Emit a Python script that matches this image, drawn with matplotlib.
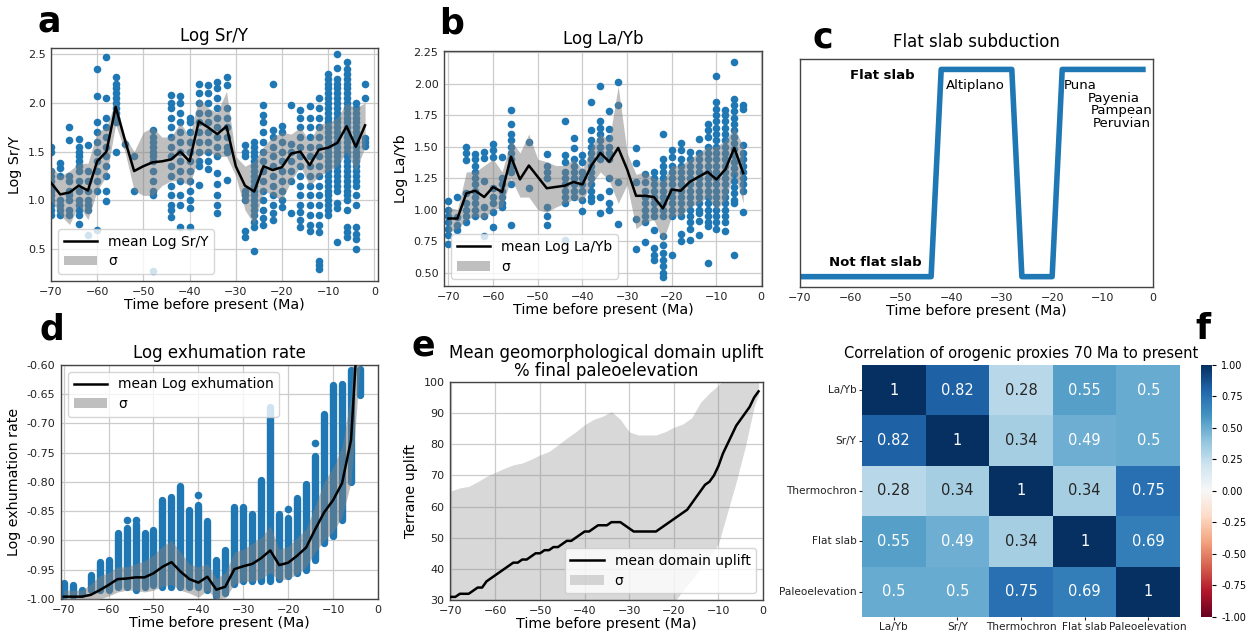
import numpy as np
import matplotlib
matplotlib.use("Agg")
import matplotlib.pyplot as plt
from matplotlib.patches import Patch
from matplotlib.lines import Line2D
import seaborn as sns

# ---------------- data ----------------
# (a) Log Sr/Y : sample values per 2 Ma bin
sry_points = {
    -70: [1.55, 1.5, 1.3, 1.25, 1.2, 1.15, 1.1, 1.05, 1.0, 0.95, 0.9, 0.85],
    -68: [1.38, 1.33, 1.25, 1.0, 0.95, 0.9, 0.85],
    -66: [1.75, 1.62, 1.25, 1.2, 1.1, 1.05, 1.0, 0.9, 0.85],
    -64: [1.63, 1.55, 1.5, 1.45, 1.4, 1.35, 1.3, 1.2, 1.1, 1.0, 0.95, 0.9, 0.85, 0.76],
    -62: [1.57, 1.3, 1.2, 1.1, 1.0, 0.95, 0.9, 0.64],
    -60: [2.35, 2.07, 1.8, 1.7, 1.6, 1.5, 1.4, 1.3, 1.2, 1.1, 0.69],
    -58: [2.47, 2.05, 1.85, 1.75, 1.65, 1.55, 1.45, 1.35, 1.25, 1.1, 0.99],
    -56: [2.27, 2.2, 2.15, 2.1, 2.05, 2.0, 1.95, 1.9, 1.85, 1.8, 1.5],
    -54: [1.58],
    -52: [1.45, 1.1],
    -48: [1.72, 1.65, 1.6, 1.55, 1.5, 1.45, 1.4, 1.3, 1.2, 1.1, 1.05, 0.27],
    -44: [2.08, 2.0, 1.95, 1.85, 1.75, 1.65, 1.55, 1.45, 1.35, 1.25, 1.15, 1.05, 0.95, 0.9, 0.83],
    -42: [2.07, 2.0, 1.9, 1.8, 1.7, 1.6, 1.5, 1.4, 1.3, 1.2, 1.05, 0.95, 0.72],
    -40: [1.85, 1.8, 1.7, 1.6, 1.5, 1.4, 1.3, 1.2, 1.1, 1.0, 0.92, 0.73],
    -38: [2.2, 2.1, 2.0, 1.9, 1.8, 1.7, 1.6, 1.5, 1.4, 1.35, 1.16],
    -36: [2.18, 2.1, 2.0, 1.9, 1.8, 1.7, 1.6, 1.5, 1.4, 1.32],
    -34: [2.22, 2.15, 2.05, 1.95, 1.85, 1.75, 1.65, 1.55, 1.45, 1.28, 1.17, 1.05, 0.95, 0.87],
    -32: [2.27, 2.18, 1.95, 1.85, 1.75, 1.65, 1.55, 1.5, 1.21],
    -28: [1.57, 1.5, 1.45, 1.1, 1.05, 1.0, 0.68, 0.62],
    -26: [1.6, 1.55, 1.5, 1.45, 1.4, 1.35, 1.3, 1.25, 1.2, 1.15, 1.1, 1.05, 1.0, 0.95, 0.9,
          0.85, 0.78, 0.73, 0.48],
    -24: [1.98, 1.88, 1.8, 1.7, 1.6, 1.5, 1.4, 1.3, 1.2, 1.1, 1.0, 0.9, 0.82, 0.75],
    -22: [2.19, 1.72, 1.65, 1.55, 1.45, 1.35, 1.25, 1.15, 1.05, 0.95, 0.87, 0.8],
    -20: [1.76, 1.7, 1.6, 1.5, 1.4, 1.3, 1.2, 1.1, 1.0, 0.93],
    -18: [1.98, 1.58, 1.5, 1.4, 1.3, 1.2, 0.87],
    -16: [1.93, 1.85, 1.75, 1.65, 1.55, 1.45, 1.35, 1.25, 1.15, 1.05, 0.95, 0.88, 0.8, 0.72],
    -14: [1.97, 1.85, 1.75, 1.65, 1.55, 1.45, 1.35, 1.25, 1.15, 1.05, 0.95, 0.85, 0.75, 0.68],
    -12: [2.05, 1.95, 1.85, 1.75, 1.65, 1.55, 1.45, 1.35, 1.25, 1.15, 1.05, 0.95, 0.85, 0.75,
          0.67, 0.38, 0.33, 0.29],
    -10: [2.3, 2.25, 2.2, 2.15, 2.1, 2.05, 2.0, 1.95, 1.9, 1.85, 1.8, 1.75, 1.7, 1.65, 1.6,
          1.55, 1.5, 1.45, 1.4, 1.35, 1.3, 1.25, 1.2, 1.15, 1.1, 1.05, 1.0, 0.95, 0.9, 0.85],
    -8: [2.5, 2.36, 2.25, 2.2, 2.15, 2.1, 2.05, 2.0, 1.95, 1.9, 1.85, 1.8, 1.75, 1.7, 1.65,
         1.6, 1.55, 1.5, 1.45, 1.4, 1.35, 1.3, 1.25, 1.2, 1.15, 1.1, 0.97, 0.92, 0.57],
    -6: [2.42, 2.35, 2.3, 2.25, 2.2, 2.15, 2.1, 2.05, 2.0, 1.95, 1.9, 1.85, 1.8, 1.75, 1.7,
         1.65, 1.6, 1.55, 1.5, 1.45, 1.4, 1.35, 1.3, 1.25, 1.2, 1.15, 1.1, 1.05, 1.0, 0.9,
         0.72, 0.67, 0.62],
    -4: [2.0, 1.95, 1.9, 1.85, 1.8, 1.75, 1.7, 1.65, 1.6, 1.55, 1.5, 1.45, 1.4, 1.35, 1.3,
         1.25, 1.2, 1.15, 1.05, 0.95, 0.72, 0.65, 0.6, 0.5],
    -2: [2.2, 2.05, 1.64, 1.6, 1.56],
}
sry_time = [-70, -68, -66, -64, -62, -60, -58, -56, -54, -52, -50, -48, -46, -44, -42, -40, -38,
            -36, -34, -32, -30, -28, -26, -24, -22, -20, -18, -16, -14, -12, -10, -8, -6, -4, -2]
sry_mean = [1.18, 1.06, 1.08, 1.15, 1.1, 1.4, 1.5, 1.96, 1.62, 1.3, 1.35, 1.39, 1.4, 1.42, 1.5,
            1.4, 1.81, 1.75, 1.68, 1.76, 1.35, 1.15, 1.09, 1.35, 1.31, 1.34, 1.48, 1.5, 1.36,
            1.52, 1.54, 1.59, 1.76, 1.55, 1.77]
sry_upper = [1.35, 1.25, 1.3, 1.38, 1.38, 1.7, 1.75, 2.02, 1.65, 1.5, 1.7, 1.75, 1.65, 1.65, 1.8,
             1.65, 2.05, 1.95, 1.9, 2.12, 1.45, 1.35, 1.4, 1.55, 1.65, 1.7, 1.68, 1.75, 1.6,
             1.78, 1.8, 1.85, 2.0, 1.95, 2.0]
sry_lower = [1.0, 0.85, 0.75, 0.95, 0.8, 1.1, 1.25, 1.78, 1.5, 1.1, 1.05, 1.05, 1.15, 1.2, 1.2,
             1.15, 1.45, 1.5, 1.45, 1.45, 1.25, 0.9, 0.75, 1.1, 1.05, 1.0, 1.2, 1.35, 1.15,
             1.25, 1.3, 1.35, 1.5, 1.3, 1.55]

# (b) Log La/Yb
layb_points = {
    -70: [1.07, 1.0, 0.95, 0.9, 0.85, 0.8, 0.73],
    -68: [1.1, 0.94, 0.88, 0.84],
    -66: [1.5, 1.45, 1.39, 1.13, 1.05, 1.0, 0.95, 0.9],
    -64: [1.44, 1.4, 1.35, 1.3, 1.25, 1.2, 1.15, 1.1, 1.05, 1.0, 0.95],
    -62: [1.46, 1.41, 1.23, 1.02, 0.95, 0.79],
    -60: [1.52, 1.47, 1.42, 1.17, 1.1, 1.05, 0.98, 0.86],
    -58: [1.42, 1.25, 1.2, 1.15, 1.1, 1.05, 1.02],
    -56: [1.79, 1.68, 1.6, 1.55, 1.5, 1.45, 1.4, 1.35, 1.3, 1.2, 0.88],
    -52: [1.54, 1.17],
    -48: [1.44, 1.35, 1.3, 1.25, 1.02, 0.95, 0.88],
    -44: [1.7, 1.43, 1.38, 1.3, 1.25, 1.2, 1.15, 1.1, 1.05, 0.76],
    -42: [1.57, 1.49, 1.4, 1.35, 1.3, 1.25, 1.2, 1.15, 1.1],
    -40: [1.43, 1.38, 1.3, 1.25, 1.2, 1.15, 1.08, 0.99],
    -38: [1.85, 1.63, 1.55, 1.5, 1.45, 1.4, 1.35, 1.3, 1.25, 1.2, 1.15, 1.1, 1.07],
    -36: [1.98, 1.7, 1.65, 1.6, 1.55, 1.5, 1.45, 1.4, 1.1, 0.97],
    -34: [1.78, 1.64, 1.57, 1.5, 1.45, 1.4, 1.25, 1.15, 1.05, 1.0],
    -32: [2.01, 1.83, 1.22, 0.89],
    -28: [1.49, 1.37, 1.22, 0.93, 0.69],
    -26: [1.28, 1.22, 1.15, 1.1, 1.05, 1.0, 0.95, 0.9, 0.74],
    -24: [1.3, 1.25, 1.2, 1.15, 1.1, 1.05, 1.0, 0.95, 0.84, 0.7, 0.64, 0.6],
    -22: [1.6, 1.4, 1.35, 1.3, 1.25, 1.2, 1.15, 1.1, 1.05, 1.0, 0.95, 0.79, 0.72, 0.66, 0.6,
          0.55, 0.5, 0.47],
    -20: [1.47, 1.42, 1.35, 1.3, 1.25, 1.2, 1.15, 1.1, 1.05, 1.0, 0.95, 0.64],
    -18: [1.53, 1.47, 1.4, 1.35, 1.3, 1.25, 1.2, 1.15, 1.1, 1.05, 1.0, 0.95, 0.81, 0.75],
    -16: [1.46, 1.4, 1.35, 1.3, 1.25, 1.2, 1.15, 1.1, 1.05, 1.0, 0.95, 0.9, 0.85, 0.76],
    -14: [1.56, 1.45, 1.4, 1.35, 1.3, 1.25, 1.2, 1.15, 1.1, 1.05, 1.0, 0.97, 0.91, 0.8],
    -12: [1.68, 1.63, 1.58, 1.5, 1.45, 1.4, 1.35, 1.3, 1.25, 1.2, 1.15, 1.1, 1.05, 1.0, 0.95,
          0.9, 0.87, 0.58],
    -10: [2.06, 1.85, 1.8, 1.75, 1.7, 1.65, 1.6, 1.55, 1.5, 1.45, 1.4, 1.35, 1.3, 1.25, 1.2,
          1.15, 1.1, 1.05, 1.0, 0.95, 0.9, 0.85],
    -8: [1.79, 1.75, 1.7, 1.65, 1.6, 1.55, 1.5, 1.45, 1.4, 1.35, 1.3, 1.25, 1.2, 1.15, 1.1,
         1.05, 1.0, 0.95, 0.9, 0.83],
    -6: [2.17, 1.88, 1.83, 1.78, 1.73, 1.68, 1.63, 1.58, 1.53, 1.48, 1.43, 1.38, 1.33, 1.28,
         1.23, 1.18, 1.13, 1.08, 1.05, 0.64],
    -4: [1.83, 1.8, 1.51, 1.45, 1.4, 1.35, 1.3, 1.25, 1.2, 1.15, 0.98],
}
layb_time = [-70, -68, -66, -64, -62, -60, -58, -56, -54, -52, -50, -48, -46, -44, -42, -40,
             -38, -36, -34, -32, -30, -28, -26, -24, -22, -20, -18, -16, -14, -12, -10, -8, -6, -4]
layb_mean = [0.93, 0.93, 1.13, 1.15, 1.1, 1.18, 1.14, 1.42, 1.24, 1.35, 1.26, 1.17, 1.18, 1.19,
             1.22, 1.2, 1.35, 1.45, 1.38, 1.49, 1.32, 1.11, 1.11, 1.1, 1.01, 1.16, 1.15, 1.22,
             1.26, 1.3, 1.24, 1.32, 1.49, 1.29]
layb_upper = [1.02, 1.0, 1.3, 1.3, 1.35, 1.4, 1.3, 1.55, 1.45, 1.6, 1.4, 1.38, 1.35, 1.35, 1.4,
              1.32, 1.5, 1.6, 1.55, 1.98, 1.45, 1.28, 1.3, 1.25, 1.23, 1.35, 1.35, 1.4, 1.45,
              1.5, 1.5, 1.55, 1.65, 1.5]
layb_lower = [0.82, 0.85, 0.92, 0.95, 0.93, 1.0, 1.02, 1.25, 1.1, 1.1, 1.0, 0.98, 1.02, 1.05,
              1.08, 1.07, 1.2, 1.3, 1.23, 1.05, 1.2, 0.85, 0.9, 0.92, 0.75, 0.95, 0.95, 1.02,
              1.05, 1.1, 1.0, 1.08, 1.3, 1.05]

# (c) flat slab timeline
slab_time = [-70, -44, -42, -28, -26, -20, -18, -2]
slab_state = [0, 0, 1, 1, 0, 0, 1, 1]

# (d) Log exhumation rate: columns of samples (top / bottom of each stack)
exh_time = [-70, -68, -66, -64, -62, -60, -58, -56, -54, -52, -50, -48, -46, -44, -42, -40,
            -38, -36, -34, -32, -30, -28, -26, -24, -22, -20, -18, -16, -14, -12, -10, -8, -6, -4]
exh_top = [-0.973, -0.976, -0.985, -0.959, -0.936, -0.934, -0.888, -0.878, -0.871, -0.888,
           -0.882, -0.831, -0.825, -0.806, -0.848, -0.84, -0.866, -0.934, -0.916, -0.842,
           -0.842, -0.854, -0.796, -0.671, -0.854, -0.862, -0.828, -0.803, -0.756, -0.683,
           -0.634, -0.632, -0.609, -0.606]
exh_bottom = [-0.995, -0.995, -0.992, -0.985, -0.985, -0.985, -0.98, -0.98, -0.985, -0.98,
              -0.976, -0.98, -0.98, -0.98, -0.98, -0.98, -0.985, -0.995, -0.99, -0.975,
              -0.97, -0.97, -0.97, -0.97, -0.965, -0.96, -0.955, -0.95, -0.933, -0.904,
              -0.893, -0.865, -0.8, -0.651]
exh_single_time = [-40, -20, -14, -56, -54]
exh_single_val = [-0.823, -0.846, -0.734, -0.865, -0.865]
exh_mean = [-0.996, -0.996, -0.996, -0.993, -0.985, -0.976, -0.966, -0.965, -0.963, -0.963,
            -0.956, -0.945, -0.937, -0.953, -0.966, -0.972, -0.962, -0.984, -0.979, -0.949,
            -0.944, -0.94, -0.93, -0.917, -0.942, -0.938, -0.926, -0.912, -0.881, -0.852,
            -0.831, -0.802, -0.728, -0.47]
exh_upper = [-0.985, -0.985, -0.985, -0.975, -0.96, -0.955, -0.945, -0.945, -0.94, -0.935,
             -0.925, -0.91, -0.9, -0.92, -0.94, -0.945, -0.94, -0.965, -0.955, -0.92,
             -0.915, -0.905, -0.895, -0.875, -0.915, -0.91, -0.895, -0.88, -0.84, -0.8,
             -0.775, -0.74, -0.65, -0.4]
exh_lower = [-1.005, -1.005, -1.005, -1.005, -1.0, -0.995, -0.988, -0.985, -0.985, -0.988,
             -0.985, -0.978, -0.975, -0.985, -0.99, -0.997, -0.985, -1.0, -0.998, -0.975,
             -0.97, -0.97, -0.965, -0.955, -0.968, -0.965, -0.958, -0.945, -0.92, -0.9,
             -0.885, -0.86, -0.8, -0.6]

# (e) mean domain uplift, % of final paleoelevation
uplift_time = list(range(-70, 0))
uplift_mean = [31, 31, 32, 32, 32, 33, 34, 34, 36, 37, 38, 39, 40, 41, 42, 42, 43, 43, 44, 45,
               45, 46, 46, 47, 47, 48, 49, 49, 50, 51, 52, 52, 53, 54, 54, 54, 55, 55, 55, 54,
               53, 52, 52, 52, 52, 52, 52, 53, 54, 55, 56, 57, 58, 59, 61, 63, 65, 67, 68, 70,
               73, 77, 80, 83, 86, 88, 90, 92, 95, 97]
uplift_band_time = [-70, -68, -66, -64, -62, -60, -58, -56, -54, -52, -50, -48, -46, -44, -42,
                    -40, -38, -36, -34, -32, -30, -28, -26, -24, -22, -20, -18, -16, -14, -12,
                    -10, -8, -6, -4, -2, -1]
uplift_upper = [65, 66, 66.5, 68, 69.7, 71, 72.3, 73.4, 74, 75.2, 76.6, 77.7, 79.8, 82, 84,
                86.3, 88, 89, 90.5, 88, 84, 83, 83, 83, 84, 85.5, 86.5, 88.5, 93.5, 96.5,
                99, 102, 104, 104, 103, 102]
uplift_lower = [-3, -2, -2.5, 0, 2, 5, 8, 11, 12, 13, 14, 14, 14, 16, 16, 18, 18, 19, 19.5, 22,
                22, 21, 21, 21, 24, 29, 33, 36.5, 40, 44, 48, 58, 68, 79, 92, 96]

# (f) correlation matrix
proxies = ["La/Yb", "Sr/Y", "Thermochron", "Flat slab", "Paleoelevation"]
corr = [[1, 0.82, 0.28, 0.55, 0.5],
        [0.82, 1, 0.34, 0.49, 0.5],
        [0.28, 0.34, 1, 0.34, 0.75],
        [0.55, 0.49, 0.34, 1, 0.69],
        [0.5, 0.5, 0.75, 0.69, 1]]

# ---------------- drawing ----------------
BLUE = "#1f77b4"
TICK = 8
LABEL = 10.3
TITLE = 12
DOT = 30

fig = plt.figure(figsize=(12.5, 6.35), dpi=100)


def style(ax, grid=True):
    ax.tick_params(labelsize=TICK, length=0, pad=4, colors="#222222")
    for s in ax.spines.values():
        s.set_color("#444444")
        s.set_linewidth(1.0)
    if grid:
        ax.grid(True, color="#cccccc", linewidth=0.9)
        ax.set_axisbelow(True)
    ax.set_xticks([-70, -60, -50, -40, -30, -20, -10, 0])
    ax.set_xlabel("Time before present (Ma)", fontsize=LABEL, labelpad=1)


def scatter_columns(ax, points):
    xs, ys = [], []
    for t, vals in points.items():
        xs += [t] * len(vals)
        ys += vals
    ax.scatter(xs, ys, s=DOT, color=BLUE, linewidths=0, zorder=2)


def sigma_legend(ax, mean_label, loc, alpha=0.5):
    handles = [Line2D([], [], color="black", lw=1.8),
               Patch(facecolor="gray", alpha=alpha, edgecolor="none")]
    ax.legend(handles, [mean_label, "σ"], loc=loc, fontsize=10, handlelength=2.4,
              borderpad=0.4, labelspacing=0.4, framealpha=0.8)


# (a)
ax_a = fig.add_axes([0.0408, 0.5575, 0.2616, 0.3669])
scatter_columns(ax_a, sry_points)
ax_a.fill_between(sry_time, sry_lower, sry_upper, color="gray", alpha=0.5, lw=0, zorder=3)
ax_a.plot(sry_time, sry_mean, color="black", lw=1.8, zorder=4)
style(ax_a)
ax_a.set_xlim(-70, 0.8)
ax_a.set_ylim(0.17, 2.565)
ax_a.set_yticks([0.5, 1.0, 1.5, 2.0, 2.5])
ax_a.set_ylabel("Log Sr/Y", fontsize=LABEL)
ax_a.set_title("Log Sr/Y", fontsize=TITLE, pad=5)
sigma_legend(ax_a, "mean Log Sr/Y", "lower left")

# (b)
ax_b = fig.add_axes([0.3552, 0.5496, 0.2544, 0.3701])
scatter_columns(ax_b, layb_points)
ax_b.fill_between(layb_time, layb_lower, layb_upper, color="gray", alpha=0.5, lw=0, zorder=3)
ax_b.plot(layb_time, layb_mean, color="black", lw=1.8, zorder=4)
style(ax_b)
ax_b.set_xlim(-71.0, 0.2)
ax_b.set_ylim(0.395, 2.258)
ax_b.set_yticks([0.5, 0.75, 1.0, 1.25, 1.5, 1.75, 2.0, 2.25])
ax_b.set_yticklabels(["%.2f" % v for v in ax_b.get_yticks()])
ax_b.set_ylabel("Log La/Yb", fontsize=LABEL)
ax_b.set_title("Log La/Yb", fontsize=TITLE, pad=5)
sigma_legend(ax_b, "mean Log La/Yb", "lower left")

# (c)
ax_c = fig.add_axes([0.64, 0.548, 0.2824, 0.359])
ax_c.plot(slab_time, slab_state, color=BLUE, lw=4)
style(ax_c, grid=False)
ax_c.set_xlim(-70, 0)
ax_c.set_ylim(-0.05, 1.05)
ax_c.set_yticks([])
ax_c.set_title("Flat slab subduction", fontsize=TITLE, pad=9)
ax_c.text(-53.7, 0.97, "Flat slab", fontsize=9.5, fontweight="bold", ha="center", va="center")
ax_c.text(-55, 0.067, "Not flat slab", fontsize=9.5, fontweight="bold", ha="center", va="center")
ax_c.text(-41.0, 0.92, "Altiplano", fontsize=9.5, va="center")
ax_c.text(-17.6, 0.92, "Puna", fontsize=9.5, va="center")
ax_c.text(-13.0, 0.86, "Payenia", fontsize=9.5, va="center")
ax_c.text(-12.4, 0.80, "Pampean", fontsize=9.5, va="center")
ax_c.text(-12.0, 0.74, "Peruvian", fontsize=9.5, va="center")

# (d)
ax_d = fig.add_axes([0.0488, 0.0567, 0.2536, 0.3685])
ax_d.vlines(exh_time, exh_bottom, exh_top, color=BLUE, lw=5.3, capstyle="round", zorder=2)
ax_d.scatter(exh_single_time, exh_single_val, s=DOT, color=BLUE, linewidths=0, zorder=2)
ax_d.fill_between(exh_time, exh_lower, exh_upper, color="gray", alpha=0.5, lw=0, zorder=3)
ax_d.plot(exh_time, exh_mean, color="black", lw=1.8, zorder=4)
style(ax_d)
ax_d.set_xlim(-70.6, 0)
ax_d.set_ylim(-1.0, -0.6)
ax_d.set_yticks([-1.0, -0.95, -0.9, -0.85, -0.8, -0.75, -0.7, -0.65, -0.6])
ax_d.set_yticklabels(["%.2f" % v for v in ax_d.get_yticks()])
ax_d.set_ylabel("Log exhumation rate", fontsize=LABEL)
ax_d.set_title("Log exhumation rate", fontsize=TITLE, pad=5)
sigma_legend(ax_d, "mean Log exhumation", "upper left")

# (e)
ax_e = fig.add_axes([0.36, 0.0551, 0.2504, 0.3433])
ax_e.fill_between(uplift_band_time, uplift_lower, uplift_upper, color="gray", alpha=0.3, lw=0,
                  zorder=2)
ax_e.plot(uplift_time, uplift_mean, color="black", lw=1.8, zorder=3)
style(ax_e)
ax_e.set_xlim(-70.2, 0)
ax_e.set_ylim(30, 100)
ax_e.set_yticks([30, 40, 50, 60, 70, 80, 90, 100])
ax_e.set_ylabel("Terrane uplift", fontsize=LABEL)
ax_e.set_title("Mean geomorphological domain uplift\n% final paleoelevation", fontsize=TITLE,
               pad=4, linespacing=1.0)
sigma_legend(ax_e, "mean domain uplift", "lower right", alpha=0.3)

# (f)
ax_f = fig.add_axes([0.6896, 0.0285, 0.2544, 0.3967])
cax = fig.add_axes([0.9608, 0.0285, 0.0088, 0.3967])
sns.heatmap(np.array(corr), annot=True, cmap="RdBu", vmin=-1, vmax=1, ax=ax_f, cbar_ax=cax,
            xticklabels=proxies, yticklabels=proxies, annot_kws={"size": 10.5})
ax_f.tick_params(labelsize=7.6, length=2.5, pad=1.5, colors="#222222")
ax_f.set_yticklabels(proxies, rotation=0)
ax_f.set_xticklabels(proxies, rotation=0)
ax_f.set_title("Correlation of orogenic proxies 70 Ma to present", fontsize=10.5, pad=5)
cax.tick_params(labelsize=7, length=3)
cax.set_yticks([-1.0, -0.75, -0.5, -0.25, 0.0, 0.25, 0.5, 0.75, 1.0])
cax.set_yticklabels(["%.2f" % v for v in cax.get_yticks()])

# panel letters
for letter, x, y in [("a", 49, 22), ("b", 452, 23), ("c", 823, 37),
                     ("d", 52, 329), ("e", 423, 345), ("f", 1203, 329)]:
    fig.text(x / 1250, 1 - y / 635, letter, fontsize=25, fontweight="bold",
             ha="center", va="center")

fig.savefig("out.png", dpi=100)
